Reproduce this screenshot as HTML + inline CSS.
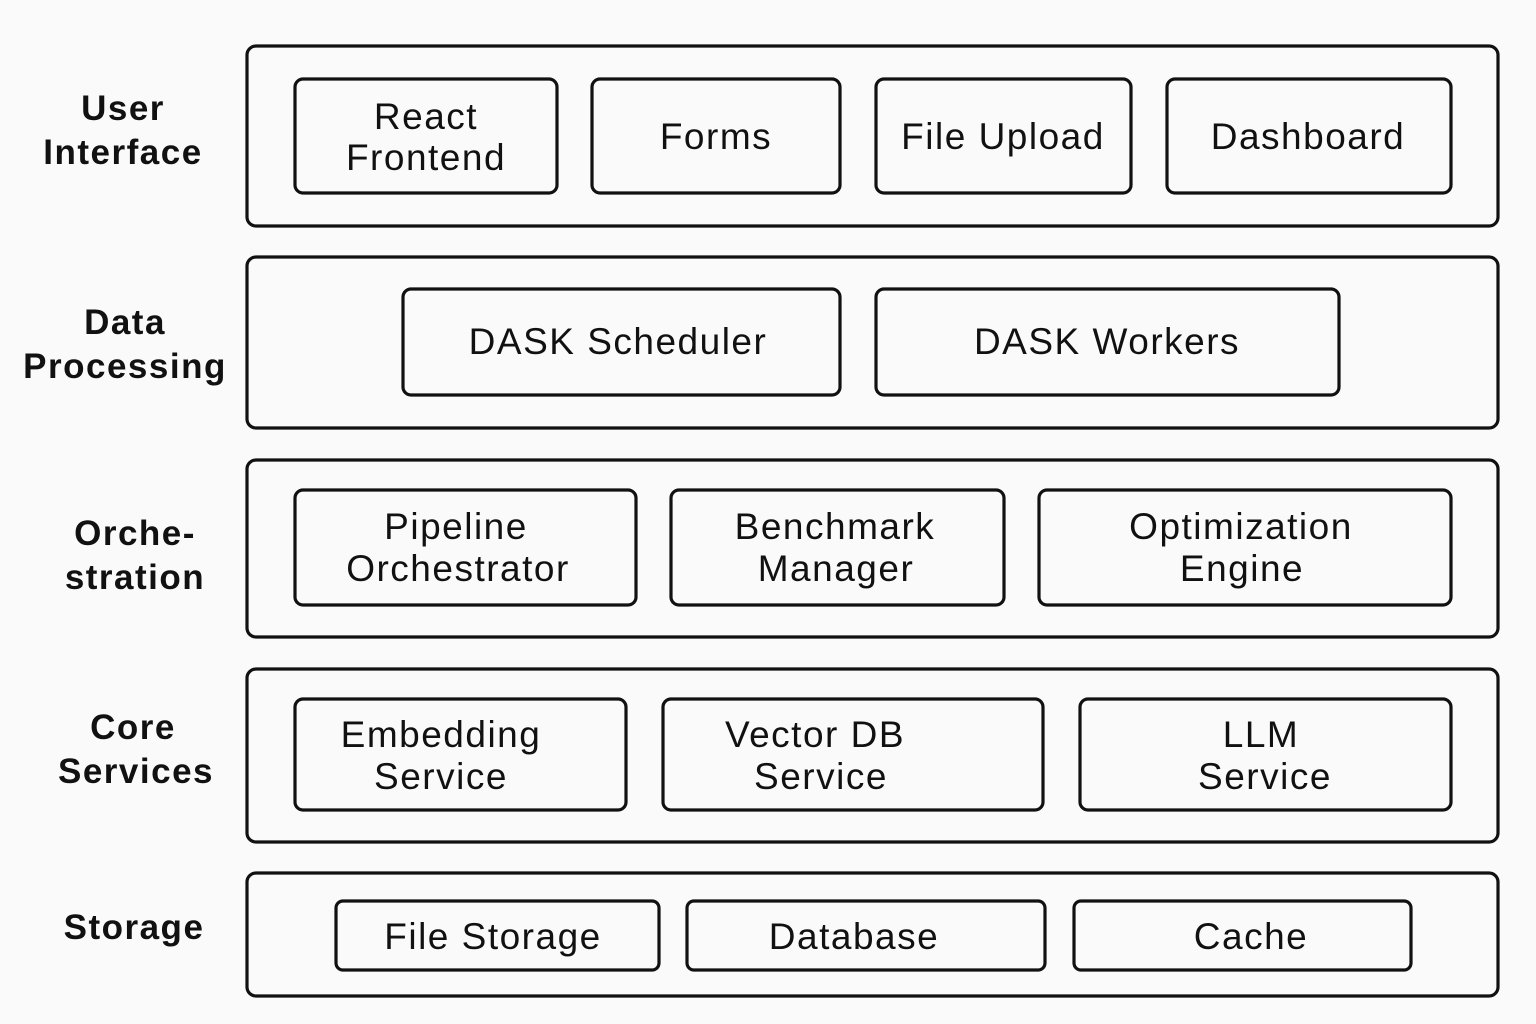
<!DOCTYPE html>
<html><head><meta charset="utf-8"><style>
html,body{margin:0;padding:0;background:#fafafa;}
svg{display:block;}
text{font-family:"Liberation Sans","DejaVu Sans",sans-serif;fill:#111;}
.l{font-size:35px;font-weight:bold;text-anchor:middle;letter-spacing:1.5px;}
.t{font-size:37px;text-anchor:middle;letter-spacing:1.5px;}
rect{fill:none;stroke:#111;stroke-width:3.2;}
</style></head><body>
<svg width="1536" height="1024" viewBox="0 0 1536 1024">
<rect x="0" y="0" width="1536" height="1024" style="fill:#fafafa;stroke:none"/>
<rect x="247" y="46" width="1251" height="180" rx="9"/>
<rect x="247" y="257" width="1251" height="171" rx="9"/>
<rect x="247" y="460" width="1251" height="177" rx="9"/>
<rect x="247" y="669" width="1251" height="173" rx="9"/>
<rect x="247" y="873" width="1251" height="123" rx="9"/>
<text class="l" x="123" y="120">User</text>
<text class="l" x="123" y="164">Interface</text>
<text class="l" x="125" y="334">Data</text>
<text class="l" x="125" y="378">Processing</text>
<text class="l" x="135" y="545">Orche-</text>
<text class="l" x="135" y="589">stration</text>
<text class="l" x="133" y="739">Core</text>
<text class="l" x="136" y="783">Services</text>
<text class="l" x="134" y="939">Storage</text>
<rect x="295" y="79" width="262" height="114" rx="8"/>
<rect x="592" y="79" width="248" height="114" rx="8"/>
<rect x="876" y="79" width="255" height="114" rx="8"/>
<rect x="1167" y="79" width="284" height="114" rx="8"/>
<text class="t" x="426" y="129">React</text>
<text class="t" x="426" y="170">Frontend</text>
<text class="t" x="716" y="149">Forms</text>
<text class="t" x="1003" y="149">File Upload</text>
<text class="t" x="1308" y="149">Dashboard</text>
<rect x="403" y="289" width="437" height="106" rx="8"/>
<rect x="876" y="289" width="463" height="106" rx="8"/>
<text class="t" x="618" y="354">DASK Scheduler</text>
<text class="t" x="1107" y="354">DASK Workers</text>
<rect x="295" y="490" width="341" height="115" rx="8"/>
<rect x="671" y="490" width="333" height="115" rx="8"/>
<rect x="1039" y="490" width="412" height="115" rx="8"/>
<text class="t" x="456" y="539">Pipeline</text>
<text class="t" x="458" y="581">Orchestrator</text>
<text class="t" x="835" y="539">Benchmark</text>
<text class="t" x="836" y="581">Manager</text>
<text class="t" x="1241" y="539">Optimization</text>
<text class="t" x="1242" y="581">Engine</text>
<rect x="295" y="699" width="331" height="111" rx="8"/>
<rect x="663" y="699" width="380" height="111" rx="8"/>
<rect x="1080" y="699" width="371" height="111" rx="8"/>
<text class="t" x="441" y="747">Embedding</text>
<text class="t" x="441" y="789">Service</text>
<text class="t" x="815" y="747">Vector DB</text>
<text class="t" x="821" y="789">Service</text>
<text class="t" x="1261" y="747">LLM</text>
<text class="t" x="1265" y="789">Service</text>
<rect x="336" y="901" width="323" height="69" rx="7"/>
<rect x="687" y="901" width="358" height="69" rx="7"/>
<rect x="1074" y="901" width="337" height="69" rx="7"/>
<text class="t" x="493" y="949">File Storage</text>
<text class="t" x="854" y="949">Database</text>
<text class="t" x="1251" y="949">Cache</text>
</svg>
</body></html>
